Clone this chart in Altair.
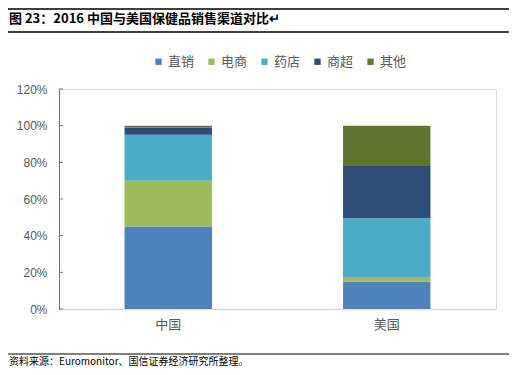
import altair as alt
import pandas as pd

categories = ["中国", "美国"]
channels = ["直销", "电商", "药店", "商超", "其他"]
china = [45, 25, 25, 4, 1]
usa = [15, 2.5, 32, 28.5, 22]
colors = ["#4f81bd", "#9bbb59", "#4bacc6", "#2c4d75", "#5f7530"]
y_ticks = [0, 0.2, 0.4, 0.6, 0.8, 1.0, 1.2]

title_text = "图 23：2016 中国与美国保健品销售渠道对比↵"
source_text = "资料来源：Euromonitor、国信证券经济研究所整理。"

rows = []
for cat, vals in zip(categories, [china, usa]):
    for i, (ch, v) in enumerate(zip(channels, vals)):
        rows.append({"cat": cat, "channel": ch, "value": v / 100.0, "order": i})
df = pd.DataFrame(rows)

FONT = "Noto Sans CJK SC"
W, H = 437, 220

def y_axis():
    return alt.Axis(title=None, values=y_ticks, format=".0%", grid=False, ticks=False,
                    domainColor="#4a7ebb", labelFontSize=12, labelColor="#595959",
                    labelFont="Liberation Sans", labelPadding=12, labelOverlap=False,
                    labelBound=False, labelFlush=False)

y_scale = alt.Scale(domain=[0, 1.2], nice=False)

bars = alt.Chart(df).mark_bar().encode(
    x=alt.X("cat:N", sort=categories,
            scale=alt.Scale(paddingInner=0.6, paddingOuter=0.3),
            axis=alt.Axis(title=None, labelAngle=0, labelFontSize=13, labelColor="#595959",
                          labelFont=FONT, ticks=False, domainColor="#d9d9d9", domainWidth=1.5,
                          labelPadding=9)),
    y=alt.Y("value:Q", stack="zero", scale=y_scale, axis=y_axis()),
    color=alt.Color("channel:N", scale=alt.Scale(domain=channels, range=colors),
                    legend=alt.Legend(title=None, orient="none", direction="horizontal",
                                      legendX=93, legendY=-34, symbolType="square",
                                      symbolSize=40, symbolStrokeWidth=0, labelFontSize=13,
                                      labelColor="#595959", labelFont=FONT, columnPadding=10,
                                      labelOffset=3, padding=0)),
    order=alt.Order("order:Q"),
)

ticks_df = pd.DataFrame({"t": y_ticks})
tick_marks = alt.Chart(ticks_df).mark_rule(color="#4a7ebb", strokeWidth=1).encode(
    y=alt.Y("t:Q", scale=y_scale, axis=y_axis()), x=alt.value(0), x2=alt.value(4)
)

dummy = alt.Data(values=[{}])
top_line = alt.Chart(dummy).mark_rule(color="black", strokeWidth=1.5).encode(
    x=alt.value(-51), x2=alt.value(452), y=alt.value(-80)
)
mid_line = alt.Chart(dummy).mark_rule(color="black", strokeWidth=1.5).encode(
    x=alt.value(-51), x2=alt.value(452), y=alt.value(-57)
)
title = alt.Chart(dummy).mark_text(align="left", baseline="middle", fontSize=13,
                                   fontWeight="bold", font=FONT, color="black").encode(
    x=alt.value(-50), y=alt.value(-70), text=alt.value(title_text)
)
bottom_line = alt.Chart(dummy).mark_rule(color="black", strokeWidth=1.2).encode(
    x=alt.value(-51), x2=alt.value(452), y=alt.value(265)
)
source = alt.Chart(dummy).mark_text(align="left", baseline="middle", fontSize=10,
                                    font=FONT, color="black").encode(
    x=alt.value(-50), y=alt.value(273), text=alt.value(source_text)
)

chart = alt.layer(bars, tick_marks, top_line, mid_line, title, bottom_line, source).properties(
    width=W, height=H,
    autosize=alt.AutoSizeParams(type="none"),
    padding={"left": 51, "top": 81, "right": 13, "bottom": 58},
).configure_view(stroke=None).configure(background="white")

chart.save("out.html", embed_options={"renderer": "svg", "actions": False})
